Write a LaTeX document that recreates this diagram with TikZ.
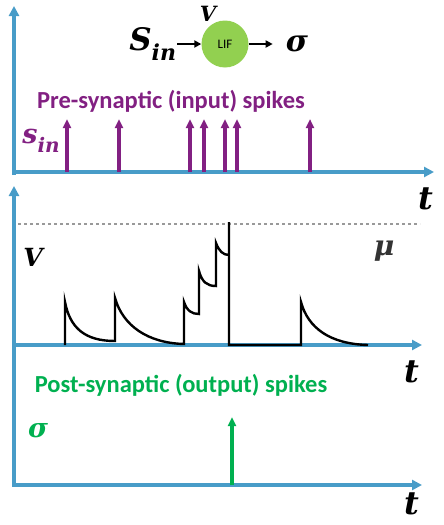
\documentclass[tikz,border=0pt]{standalone}
\usepackage{fontspec}
\setmainfont{Carlito}
\newfontfamily\symfont{DejaVu Serif}
\usetikzlibrary{arrows.meta, positioning}
\definecolor{axisblue}{RGB}{72,156,200}
\definecolor{prepurple}{RGB}{130,32,130}
\definecolor{postgreen}{RGB}{0,176,80}
\definecolor{lifgreen}{RGB}{146,208,80}
\newcommand{\lowsub}[2]{#1\raisebox{-0.35em}{\fontsize{#2}{#2}\selectfont in}}
\tikzset{
	axis/.style={axisblue, line width=3.4pt, -{Triangle[width=10pt,length=10pt]}},
	inspike/.style={prepurple, line width=3.2pt, -{Triangle[width=8pt,length=9pt]}},
	outspike/.style={postgreen, line width=3.2pt, -{Triangle[width=8pt,length=9pt]}},
	trace/.style={black, line width=2.4pt, line join=miter},
	flow/.style={black, line width=2.2pt, -{Triangle[width=7pt,length=7pt]}},
	lifnode/.style={circle, fill=lifgreen, minimum size=47pt, inner sep=0pt, font=\fontsize{13}{13}\selectfont},
	symlabel/.style={inner sep=1pt, font=\symfont\bfseries\itshape},
	caption/.style={inner sep=0pt, font=\fontsize{24.5}{25}\selectfont\bfseries}}

\begin{document}
\begin{tikzpicture}[x=1pt, y=-1pt]
	\useasboundingbox (0,0) rectangle (444,525);
	
	%neuron
	\node[lifnode] (lif) at (225,44) {LIF};
	\node[symlabel, left=24pt of lif, font=\symfont\bfseries\itshape\fontsize{31}{31}\selectfont] (sin) {\lowsub{S}{22}};
	\node[symlabel, right=36pt of lif, font=\symfont\bfseries\itshape\fontsize{30}{30}\selectfont] (sig) {σ};
	\node[symlabel, font=\symfont\bfseries\itshape\fontsize{21}{21}\selectfont] (vtop) at (208,14) {V};
	\draw[flow] (sin) -- (lif);
	\draw[flow, shorten >=12pt] (lif) -- (sig);
	
	%input panel
	\draw[axis] (14,175) -- (14,6);
	\draw[axis] (12,172) -- (434,172);
	\node[caption, prepurple] (pre) at (171,101) {Pre-synaptic (input) spikes};
	\node[symlabel, prepurple, font=\symfont\bfseries\itshape\fontsize{27}{27}\selectfont] (sinlab) at (41,141) {\lowsub{s}{20}};
	\foreach \x in {67,119,190,204,225,237,310}
		\draw[inspike] (\x,172) -- (\x,119);
	\node[symlabel, font=\symfont\bfseries\itshape\fontsize{32}{32}\selectfont] (t1) at (426,199) {t};
	
	%membrane panel
	\draw[axis] (14,360) -- (14,186);
	\draw[axis] (12,345) -- (422,345);
	\draw[gray!80, line width=2.5pt, dash pattern=on 3pt off 3pt] (18,224) -- (420,224);
	\node[symlabel, font=\symfont\bfseries\itshape\fontsize{25}{25}\selectfont] (vlab) at (33,257) {V};
	\node[symlabel, black!80, font=\symfont\bfseries\itshape\fontsize{28}{28}\selectfont] (mu) at (384,251) {μ};
	\draw[trace] (65,345) -- (65,302) .. controls (70,328) and (85,341) .. (115,341)
		-- (115,298) .. controls (123,326) and (148,343) .. (184,344)
		-- (184,302) .. controls (187,311) and (192,314) .. (199,314)
		-- (199,271) .. controls (202,282) and (207,286) .. (216,286)
		-- (216,243) .. controls (219,251) and (223,255) .. (229,255)
		-- (229,222) -- (229,345) -- (301,345)
		-- (301,302) .. controls (308,328) and (330,344) .. (368,345);
	\node[symlabel, font=\symfont\bfseries\itshape\fontsize{32}{32}\selectfont] (t2) at (412,372) {t};
	
	%output panel
	\draw[axisblue, line width=3.4pt] (14,352) -- (14,487);
	\draw[axis] (12,485) -- (422,485);
	\node[caption, postgreen] (post) at (181,385) {Post-synaptic (output) spikes};
	\node[symlabel, postgreen, font=\symfont\bfseries\itshape\fontsize{27}{27}\selectfont] (siglab) at (38,431) {σ};
	\draw[outspike] (232,485) -- (232,417);
	\node[symlabel, font=\symfont\bfseries\itshape\fontsize{32}{32}\selectfont] (t3) at (412,504) {t};
\end{tikzpicture}
\end{document}
